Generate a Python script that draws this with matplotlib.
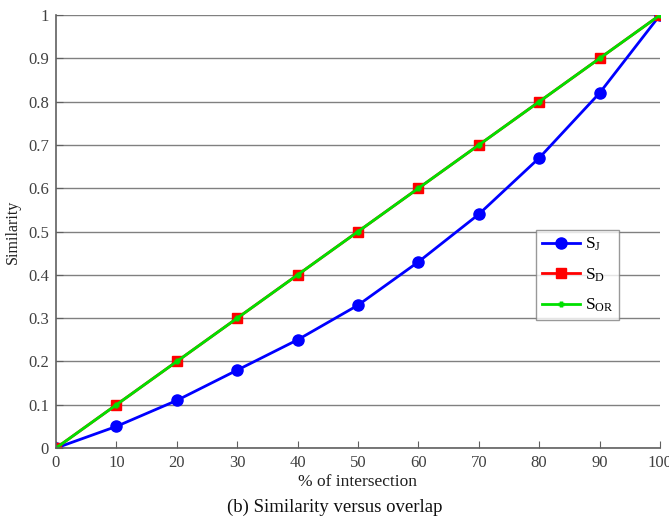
import matplotlib.pyplot as plt

overlap = [0, 10, 20, 30, 40, 50, 60, 70, 80, 90, 100]
s_j = [0, 0.05, 0.11, 0.18, 0.25, 0.33, 0.43, 0.54, 0.67, 0.82, 1.0]
s_d = [0, 0.1, 0.2, 0.3, 0.4, 0.5, 0.6, 0.7, 0.8, 0.9, 1.0]
s_or = [0, 0.1, 0.2, 0.3, 0.4, 0.5, 0.6, 0.7, 0.8, 0.9, 1.0]
y_ticks = [0, 0.1, 0.2, 0.3, 0.4, 0.5, 0.6, 0.7, 0.8, 0.9, 1]
y_labels = ['0', '0.1', '0.2', '0.3', '0.4', '0.5', '0.6', '0.7', '0.8', '0.9', '1']

plt.rcParams['font.family'] = ['Liberation Serif', 'DejaVu Serif']
plt.rcParams['mathtext.fontset'] = 'stix'

fig = plt.figure(figsize=(6.69, 5.21), dpi=100)
ax = fig.add_axes([0.0837, 0.140, 0.9028, 0.831])

ax.plot(overlap, s_j, color='#0000ff', lw=2, marker='o', ms=8, label='$\\mathregular{S_J}$')
ax.plot(overlap, s_d, color='#ff0000', lw=2, marker='s', ms=7, label='$\\mathregular{S_D}$')
ax.plot(overlap, s_or, color='#00e000', lw=2, marker='+', ms=5, mew=2.5, label='$\\mathregular{S_{OR}}$')

ax.set_xlim(0, 100)
ax.set_ylim(0, 1)
ax.set_xticks(overlap)
ax.set_yticks(y_ticks)
ax.set_yticklabels(y_labels)
ax.yaxis.grid(True, color='#808080', lw=1)
ax.set_axisbelow(True)
for s in ['top', 'right']:
    ax.spines[s].set_visible(False)
for s in ['left', 'bottom']:
    ax.spines[s].set_color('#606060')
    ax.spines[s].set_linewidth(1.2)
ax.tick_params(direction='in', length=5, color='#606060', labelcolor='#404040', labelsize=12, pad=5)
for t in ax.get_xticklabels() + ax.get_yticklabels():
    t.set_clip_on(False)

ax.set_xlabel('% of intersection', fontsize=12.5, color='#202020', labelpad=2)
ax.set_ylabel('Similarity', fontsize=11.5, color='#202020', labelpad=5)

leg = ax.legend(loc='center', bbox_to_anchor=(0.864, 0.40), fontsize=12.5, frameon=True,
                fancybox=False, edgecolor='#808080', handlelength=2.2, borderpad=0.35,
                borderaxespad=0, labelspacing=0.75, handletextpad=0.25)
leg.get_frame().set_linewidth(1)

fig.text(0.5, 0.027, '(b) Similarity versus overlap', ha='center', va='center', fontsize=13.5, color='#101010')

fig.savefig('out.png', dpi=100)
